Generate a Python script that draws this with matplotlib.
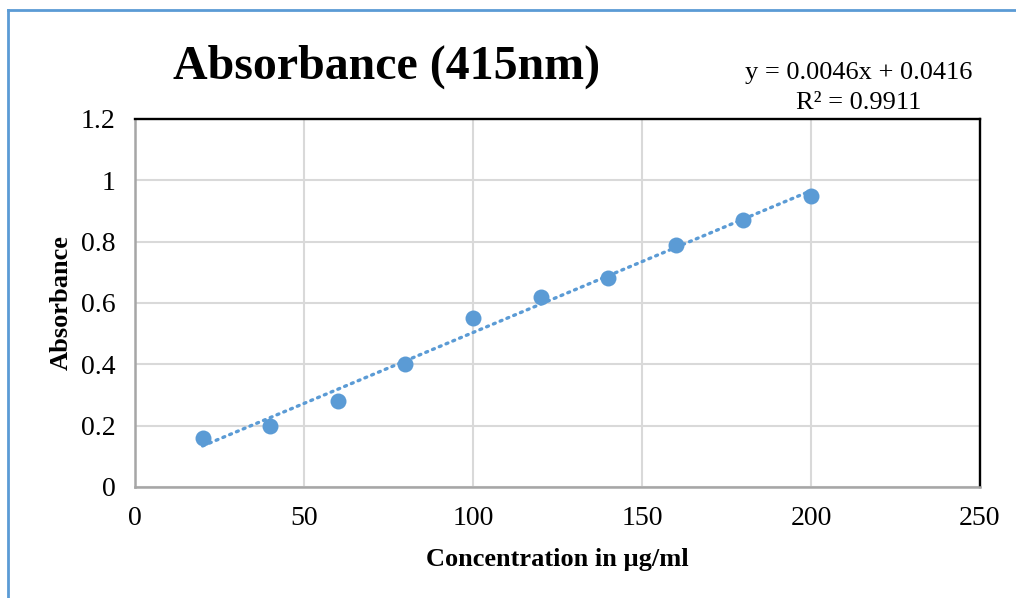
import numpy as np
import matplotlib
matplotlib.use("Agg")
import matplotlib.pyplot as plt
from matplotlib.lines import Line2D

# dados
concentracao = [20, 40, 60, 80, 100, 120, 140, 160, 180, 200]
absorbancia = [0.16, 0.20, 0.28, 0.40, 0.55, 0.62, 0.68, 0.79, 0.87, 0.95]
x_ticks = [0, 50, 100, 150, 200, 250]
y_ticks = [0, 0.2, 0.4, 0.6, 0.8, 1, 1.2]
y_tick_labels = ["0", "0.2", "0.4", "0.6", "0.8", "1", "1.2"]

azul = "#5b9bd5"
plt.rcParams["font.family"] = ["Liberation Serif", "DejaVu Serif"]

fig = plt.figure(figsize=(10.16, 5.98), dpi=100)
ax = fig.add_axes([135/1016, 1-487/598, (980-135)/1016, (487-119)/598])

# linha de tendencia
coef = np.polyfit(concentracao, absorbancia, 1)
xt = np.array([min(concentracao), max(concentracao)])
ax.plot(xt, np.polyval(coef, xt), linestyle=(0, (0.6, 1.6)), color=azul,
        linewidth=2.4, dash_capstyle="round", zorder=2)

ax.plot(concentracao, absorbancia, "o", color=azul, markersize=11.5,
        markeredgewidth=0, zorder=3)

ax.set_xlim(0, 250)
ax.set_ylim(0, 1.2)
ax.set_xticks(x_ticks)
ax.set_yticks(y_ticks)
ax.set_yticklabels(y_tick_labels)
ax.tick_params(length=0, labelsize=20, pad=14)
ax.grid(True, color="#d9d9d9", linewidth=1.5)
ax.set_axisbelow(True)

for s in ["top", "right"]:
    ax.spines[s].set_color("black")
    ax.spines[s].set_linewidth(1.7)
for s in ["left", "bottom"]:
    ax.spines[s].set_color("#a6a6a6")
    ax.spines[s].set_linewidth(1.8)

ax.set_xlabel("Concentration in µg/ml", fontsize=19, fontweight="bold", labelpad=12)
ax.set_ylabel("Absorbance", fontsize=19, fontweight="bold", labelpad=6)

fig.text(387/1016, 1-67/598, "Absorbance (415nm)", fontsize=34.5, fontweight="bold",
         ha="center", va="center")

eq = "y = 0.0046x + 0.0416"
fig.text(859/1016, 1-73/598, eq, fontsize=19, ha="center", va="center")
fig.text(859/1016, 1-103/598, "R² = 0.9911", fontsize=19, ha="center", va="center")

# borda do grafico
fig.add_artist(Line2D([8/1016, 8/1016], [0, 1-10/598], transform=fig.transFigure,
                      color=azul, linewidth=2))
fig.add_artist(Line2D([8/1016, 1], [1-10/598, 1-10/598], transform=fig.transFigure,
                      color=azul, linewidth=2))

fig.savefig("out.png", dpi=100)
